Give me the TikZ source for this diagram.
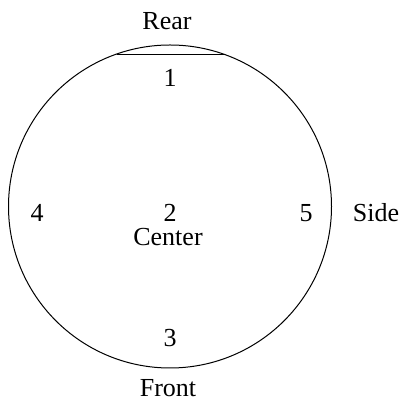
\documentclass[tikz,border=0pt]{standalone}
\usepackage{fontspec}
\setmainfont{Liberation Serif}
\usepackage{tikz}

\begin{document}
\begin{tikzpicture}[x=0.5pt, y=-0.5pt, line width=0.5pt,
  lbl/.style={anchor=base, inner sep=0pt, font=\fontsize{13}{15}\selectfont}]
\useasboundingbox (0,0) rectangle (401,399);
% outline with rear chord
\draw (170,206.5) circle (161.5);
\coordinate (chordL) at (117,55);
\coordinate (chordR) at (224,55);
\draw (chordL) -- (chordR);
% positions
\node[lbl] (p1) at (170,87) {1};
\node[lbl] (p4) at (37,222) {4};
\node[lbl] (p2) at (170,222) {2};
\node[lbl] (p5) at (306,222) {5};
\node[lbl] (p3) at (170,347) {3};
\node[lbl] (center) at (168,245.5) {Center};
% sides
\node[lbl] (rear) at (167,30) {Rear};
\node[lbl] (side) at (376,222) {Side};
\node[lbl] (front) at (168,397) {Front};
\end{tikzpicture}
\end{document}
